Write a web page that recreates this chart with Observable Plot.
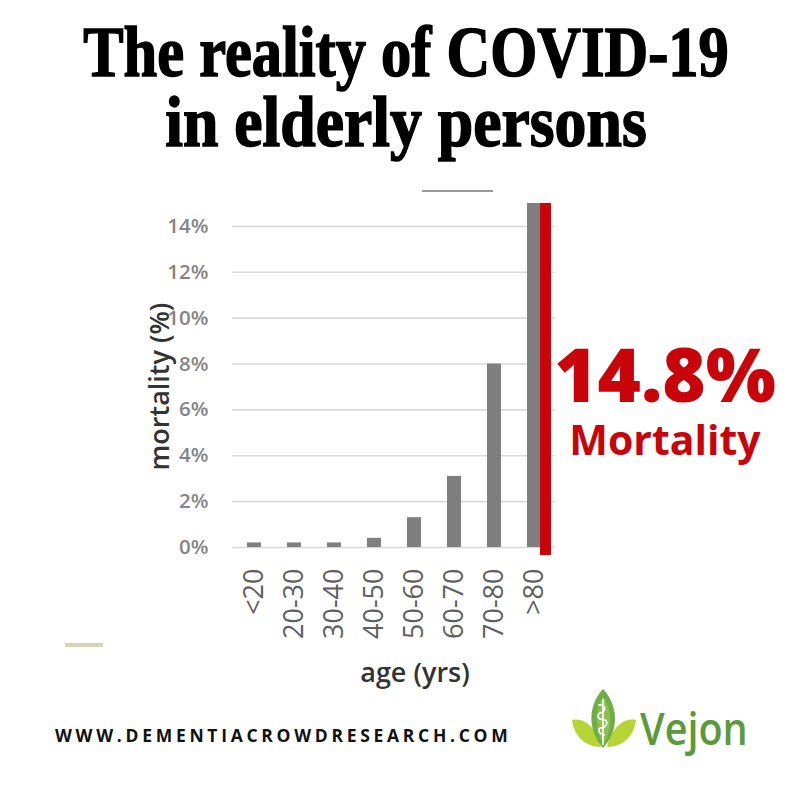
<!DOCTYPE html>
<html>
<head>
<meta charset="utf-8">
<script src="https://cdn.jsdelivr.net/npm/d3@7"></script>
<script src="https://cdn.jsdelivr.net/npm/@observablehq/plot@0.6"></script>
<style>
  html, body { margin: 0; padding: 0; background: #fff; }
  #page { position: relative; width: 800px; height: 800px; overflow: hidden; background: #fff; }
  .abs { position: absolute; white-space: nowrap; }
  .title { font-family: "Liberation Serif", serif; font-weight: 700; font-size: 72px; line-height: 68px; color: #000;
           -webkit-text-stroke: 1.6px #000;
           left: 0; width: 812px; text-align: center; transform-origin: 406px 0; }
  .red { font-family: "Open Sans", sans-serif; font-weight: 800; color: #c8040a; left: 545px; width: 240px; text-align: center; }
  #chart { position: absolute; left: 0; top: 0; }
</style>
</head>
<body>
<div id="page">
  <div class="abs title" style="top:18px; transform: scaleX(0.84);">The reality of COVID-19</div>
  <div class="abs title" style="top:88px; transform: scaleX(0.885);">in elderly persons</div>
  <div id="chart"></div>
  <div class="abs" style="left:422px; top:190px; width:71px; height:1.5px; background:#9a9a9a;"></div>
  <div class="abs" style="left:65px; top:643px; width:38px; height:4px; background:#d8d3b3;"></div>
  <div class="abs red" style="top:344px; font-size:74px; line-height:60px;">14.8%</div>
  <div class="abs red" style="top:421px; font-size:41px; line-height:36px; font-weight:700;">Mortality</div>
  <div class="abs" style="left:55px; top:727px; font-family:'Open Sans',sans-serif; font-weight:700; font-size:17.5px; line-height:17px; letter-spacing:3.7px; color:#111;">WWW.DEMENTIACROWDRESEARCH.COM</div>
  <svg class="abs" style="left:560px; top:680px;" width="80" height="75" viewBox="0 0 80 75">
    <path d="M12 40 C26 37 37 50 41 67 C25 67 14 56 12 40 Z" fill="#b7d336"/>
    <path d="M76 40 C62 37 51 50 47 67 C63 67 74 56 76 40 Z" fill="#b7d336"/>
    <path d="M43 9 C58 25 60 50 43 68 C27 50 28 25 43 9 Z" fill="#6fae45"/>
    <path d="M43 16 C52 30 53 50 43 64 C35 50 35 30 43 16 Z" fill="#8cc152"/>
    <line x1="43" y1="19" x2="43" y2="65" stroke="#fff" stroke-width="1.6"/>
    <path d="M38 25 C46 24 47 31 40 33 C36 35 38 40 45 40 C49 42 46 48 40 48 C37 50 40 55 45 55" fill="none" stroke="#fff" stroke-width="1.6"/>
  </svg>
  <div class="abs" style="left:640px; top:704px; font-family:'Open Sans',sans-serif; font-weight:600; font-size:46px; line-height:46px; color:#5b9a3a; transform: scaleX(0.86); transform-origin: 0 0;">Vejon</div>
</div>
<script>
const ages = ["<20", "20-30", "30-40", "40-50", "50-60", "60-70", "70-80", ">80"];
const mortality = [0.2, 0.2, 0.2, 0.4, 1.3, 3.1, 8.0, 15.0];
const yTicks = [0, 2, 4, 6, 8, 10, 12, 14];
const highlightAge = ">80";

const data = ages.map((age, i) => ({age, value: mortality[i]}));

const chart = Plot.plot({
  width: 800,
  height: 700,
  marginLeft: 232,
  marginRight: 245,
  marginTop: 203,
  marginBottom: 153,
  style: {fontFamily: "'Open Sans', sans-serif", background: "transparent"},
  x: {domain: ages, paddingInner: 0.653, paddingOuter: 0.3265, label: null},
  y: {domain: [0, 15], label: null},
  marks: [
    Plot.ruleY(yTicks, {stroke: "#d9d9d9", strokeWidth: 1.6}),
    Plot.barY(data, {x: "age", y: "value", fill: "#7f7f7f"}),
    Plot.ruleX(data.filter(d => d.age === highlightAge), {x: "age", y1: "value", y2: 0, stroke: "#c8040a", strokeWidth: 11, dx: 11, insetBottom: -8}),
    Plot.axisY(yTicks, {tickSize: 0, tickPadding: 24, tickFormat: d => d + "%", fontSize: 20.5, fill: "#858585", fontWeight: 600, label: null}),
    Plot.axisX({tickSize: 0, tickPadding: 21, tickRotate: -90, fontSize: 27, fill: "#606060", fontWeight: 500, label: null}),
    Plot.text(["mortality (%)"], {frameAnchor: "left", rotate: -90, dx: -72, dy: 11, fontSize: 27, fontWeight: 600, fill: "#333", textAnchor: "middle"}),
    Plot.text(["age (yrs)"], {frameAnchor: "bottom", dx: 21, dy: 134, fontSize: 27, fontWeight: 600, fill: "#333", textAnchor: "middle"})
  ]
});
document.getElementById("chart").appendChild(chart);
</script>
</body>
</html>
